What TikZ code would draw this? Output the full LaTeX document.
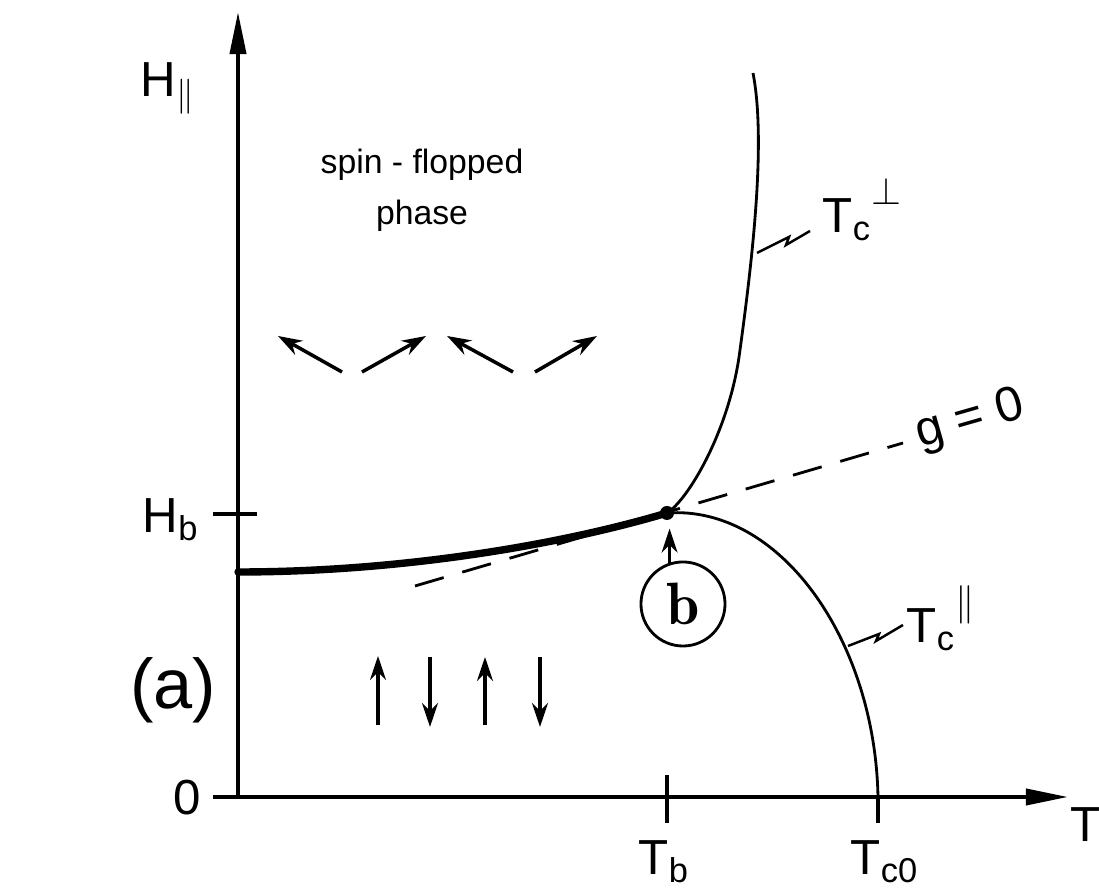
\documentclass[tikz,border=0pt]{standalone}
\usepackage{fontspec}
\setsansfont{Liberation Sans}
\usepackage{tikz}
\usetikzlibrary{arrows.meta,calc,positioning}

\begin{document}
\begin{tikzpicture}[
    x=0.01cm, y=-0.01cm,
    font=\sffamily\fontsize{14}{16}\selectfont,
    axis/.style={line width=1.1pt, -{Triangle[length=4.2mm, width=1.6mm]}},
    tick/.style={line width=1pt},
    phaseline/.style={line width=0.8pt},
    firstorder/.style={line width=2.1pt, line cap=round},
    gline/.style={line width=0.8pt, dash pattern=on 8.5pt off 5.5pt},
    spin/.style={line width=1pt, -{Stealth[length=2.4mm, width=1.6mm]}},
    leader/.style={line width=0.7pt, line join=miter},
    lbl/.style={inner sep=0pt, anchor=base west}
]
\useasboundingbox (0,0) rectangle (1099,889);
\coordinate (orig) at (238,797);
\coordinate (tend) at (1068,797);
\coordinate (hend) at (238,12);
\coordinate (hbtick) at (238,514);
\coordinate (tbtick) at (667,797);
\coordinate (tcotick) at (878,797);
\draw[axis] (213,797) -- (tend);
\draw[axis] (orig) -- (hend);
\draw[tick] ($(hbtick)+(-25,0)$) -- ($(hbtick)+(19,0)$);
\draw[tick] ($(tbtick)+(0,-22)$) -- ($(tbtick)+(0,26)$);
\draw[tick] (tcotick) -- ($(tcotick)+(0,26)$);
\node[circle, fill, inner sep=0pt, minimum size=1.4mm] (bdot) at (667,513) {};
\draw[firstorder] (238,572) .. controls (400,572) and (560,545) .. (bdot.center);
\draw[gline] (415,586) -- (903,443);
\draw[phaseline] (bdot.center) .. controls (688,500) and (730,430) .. (740,350)
    .. controls (753,255) and (766,140) .. (753,73);
\draw[phaseline] (bdot.center) .. controls (780,505) and (875,640) .. (tcotick);
\coordinate (tperp) at (757,253);
\coordinate (tpar) at (848,646);
\draw[leader] (tperp) -- ++(32,-16) -- ++(-3,8) -- ++(24,-14);
\draw[leader] (tpar) -- ++(31,-12) -- ++(-3,7) -- ++(27,-16);
\foreach \xa/\xb in {342/278, 362/426, 513/447, 535/597}
    \draw[spin] (\xa,372) -- (\xb,336);
\foreach \xx/\ya/\yb in {378/725/656, 430/657/727, 485/725/657, 540/657/727}
    \draw[spin] (\xx,\ya) -- (\xx,\yb);
\node[circle, draw, line width=0.8pt, minimum size=8.4mm, inner sep=0pt,
    font=\fontsize{17}{20}\selectfont] (bcirc) at (683,604) {$\mathbf{b}$};
\draw[spin, line width=0.8pt, shorten >=0.8mm] (bcirc.108) -- (bcirc.108 |- bdot.south);
\node[align=center, font=\sffamily\fontsize{9.6}{14.5}\selectfont] (sfp) at (422,190)
    {spin - flopped\\phase};
\node[lbl] (hpar) at (140,97) {H\textsubscript{$\parallel$}};
\node[lbl] (hb) at (142,533) {H\textsubscript{b}};
\node[lbl] (zero) at (173,815) {0};
\node[lbl] (tb) at (638,875) {T\textsubscript{b}};
\node[lbl] (tco) at (850,875) {T\textsubscript{c0}};
\node[lbl] (taxis) at (1070,842) {T};
\node[lbl] (tcperp) at (822,233)
    {T\textsubscript{c}\raisebox{1.1ex}{\fontsize{11}{12}\selectfont$\perp$}};
\node[lbl] (tcpar) at (906,643)
    {T\textsubscript{c}\raisebox{1.1ex}{\fontsize{11}{12}\selectfont$\parallel$}};
\node[rotate=16] (gzero) at (970,421) {g = 0};
\node[font=\sffamily\fontsize{20}{24}\selectfont] (panel) at (173,690) {(a)};
\end{tikzpicture}
\end{document}
